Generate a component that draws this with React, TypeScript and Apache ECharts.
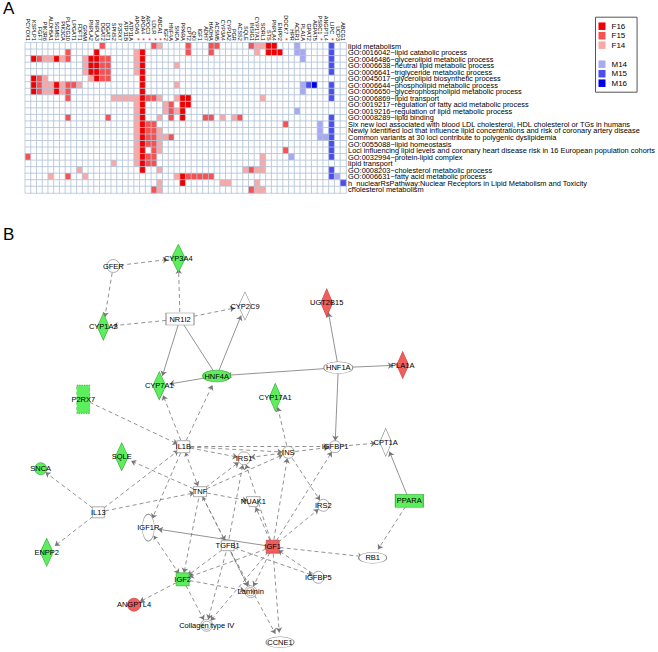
import React, { useEffect, useRef } from "react";
import * as echarts from "echarts";

const FONT = "Liberation Sans, Arial, sans-serif";

// ---------- Panel A data ----------
const genes = [
  "PCYOX1", "KSPLP1", "FGF7", "PIK3R6", "ALDH5A1", "SGMS1", "PIK3CA", "PLA2G10", "LPGAT1", "FDFT1",
  "GPAM", "PNPLA2", "PNPLA3", "DGAT2", "DGAT1", "SPNS2", "P2RX7", "ATP11B", "ATP11A", "APOA5",
  "APOA4", "APOC3", "LDLR", "ABCA1", "IGF2", "HNF4A", "SNCA", "PPARA", "CPT2", "QKI",
  "IGF1", "ADH7", "HADHA", "ACSM5", "CYP3A4", "CYP1A2", "PGR", "ACSS2", "SQLE", "INSIG1",
  "CYP17A1", "SORL1", "STS", "PNPLA4", "ENPP2", "DOCK7", "HPR", "ACER1", "PLA1A", "GPAT2",
  "AGPAT5", "PSRC1", "ANGPTL4", "LIPC", "UCP3", "ABCG1",
];
const starredGenes = ["APOA5", "APOA4", "APOC3", "LDLR", "ABCA1", "DOCK7", "PSRC1", "LIPC"];

const terms = [
  "lipid metabolism",
  "GO:0016042~lipid catabolic process",
  "GO:0046486~glycerolipid metabolic process",
  "GO:0006638~neutral lipid metabolic process",
  "GO:0006641~triglyceride metabolic process",
  "GO:0045017~glycerolipid biosynthetic process",
  "GO:0006644~phospholipid metabolic process",
  "GO:0006650~glycerophospholipid metabolic process",
  "GO:0006869~lipid transport",
  "GO:0019217~regulation of fatty acid metabolic process",
  "GO:0019216~regulation of lipid metabolic process",
  "GO:0008289~lipid binding",
  "Six new loci associated with blood LDL cholesterol, HDL cholesterol or TGs in humans",
  "Newly identified loci that influence lipid concentrations and risk of coronary artery disease",
  "Common variants at 30 loci contribute to polygenic dyslipidemia",
  "GO:0055088~lipid homeostasis",
  "Loci influencing lipid levels and coronary heart disease risk in 16 European population cohorts",
  "GO:0032994~protein-lipid complex",
  "lipid transport",
  "GO:0008203~cholesterol metabolic process",
  "GO:0006631~fatty acid metabolic process",
  "h_nuclearRsPathway:Nuclear Receptors in Lipid Metabolism and Toxicity",
  "cholesterol metabolism",
];

// levels: 3 = F16, 2 = F15, 1 = F14, -1 = M14, -2 = M15, -3 = M16 ; [row, col, level]
const cells: [number, number, number][] = [
  [0, 13, 2], [0, 22, 2], [0, 23, 1], [0, 28, 2], [0, 32, 2], [0, 33, 2], [0, 39, 2], [0, 40, 1], [0, 41, 1], [0, 42, 3], [0, 43, 3], [0, 47, -1], [0, 53, -2],
  [1, 7, 2], [1, 12, 3], [1, 19, 1], [1, 20, 3], [1, 28, 2], [1, 32, 2], [1, 40, 1], [1, 42, 3], [1, 43, 3], [1, 44, 3], [1, 47, -1], [1, 48, -1], [1, 53, -2],
  [2, 1, 3], [2, 2, 2], [2, 3, 1], [2, 4, 1], [2, 5, 3], [2, 6, 1], [2, 7, 2], [2, 10, 1], [2, 11, 3], [2, 12, 3], [2, 13, 2], [2, 14, 2], [2, 19, 1], [2, 20, 3], [2, 48, -1], [2, 53, -2],
  [3, 10, 1], [3, 11, 3], [3, 12, 3], [3, 13, 2], [3, 14, 2], [3, 19, 1], [3, 20, 3], [3, 26, 1], [3, 53, -2],
  [4, 10, 1], [4, 11, 3], [4, 12, 3], [4, 13, 2], [4, 14, 2], [4, 19, 1], [4, 20, 3], [4, 53, -2],
  [5, 1, 3], [5, 2, 2], [5, 3, 1], [5, 11, 1], [5, 12, 3], [5, 13, 2], [5, 14, 2], [5, 20, 3],
  [6, 1, 3], [6, 2, 2], [6, 3, 1], [6, 4, 1], [6, 5, 3], [6, 6, 1], [6, 7, 2], [6, 8, 2], [6, 9, 1], [6, 20, 3], [6, 26, 1], [6, 48, -1], [6, 49, -2], [6, 50, -3], [6, 53, -2],
  [7, 1, 3], [7, 2, 2], [7, 3, 1], [7, 4, 1], [7, 5, 3], [7, 6, 1], [7, 7, 2], [7, 20, 3], [7, 48, -1], [7, 53, -2],
  [8, 7, 2], [8, 15, 1], [8, 16, 1], [8, 17, 1], [8, 18, 1], [8, 19, 1], [8, 20, 3], [8, 21, 2], [8, 22, 2], [8, 23, 1], [8, 26, 1], [8, 27, 3], [8, 28, 3], [8, 41, 1], [8, 53, -2],
  [9, 19, 1], [9, 20, 3], [9, 24, 1], [9, 25, 2], [9, 27, 3], [9, 28, 3],
  [10, 19, 1], [10, 20, 3], [10, 24, 1], [10, 25, 2], [10, 26, 1], [10, 27, 3], [10, 47, -1],
  [11, 7, 2], [11, 14, 2], [11, 19, 1], [11, 20, 3], [11, 23, 1], [11, 25, 2], [11, 27, 3], [11, 31, 2], [11, 32, 2], [11, 34, 1], [11, 36, 1], [11, 37, 2], [11, 53, -2],
  [12, 19, 1], [12, 20, 3], [12, 21, 2], [12, 22, 2], [12, 45, 2], [12, 51, -1], [12, 53, -2],
  [13, 19, 1], [13, 20, 3], [13, 21, 2], [13, 22, 2], [13, 23, 1], [13, 51, -1], [13, 53, -2],
  [14, 19, 1], [14, 20, 3], [14, 21, 2], [14, 22, 2], [14, 23, 1], [14, 24, 1], [14, 25, 2], [14, 51, -1], [14, 52, -1], [14, 53, -2],
  [15, 19, 1], [15, 20, 3], [15, 21, 2], [15, 22, 2], [15, 23, 1], [15, 53, -2],
  [16, 19, 1], [16, 20, 3], [16, 22, 2], [16, 23, 1], [16, 45, 2], [16, 53, -2],
  [17, 0, 2], [17, 19, 1], [17, 20, 3], [17, 21, 2], [17, 22, 2], [17, 41, 1], [17, 46, -1], [17, 53, -2],
  [18, 15, 1], [18, 19, 1], [18, 20, 3], [18, 21, 2], [18, 22, 2], [18, 41, 1],
  [19, 9, 1], [19, 20, 3], [19, 23, 1], [19, 38, 1], [19, 39, 2], [19, 40, 1], [19, 41, 1], [19, 53, -2],
  [20, 4, 1], [20, 7, 2], [20, 10, 1], [20, 26, 1], [20, 27, 3], [20, 28, 2], [20, 29, 2], [20, 30, 2], [20, 31, 2], [20, 32, 2], [20, 53, -2], [20, 54, -1],
  [21, 23, 1], [21, 27, 3], [21, 34, 1], [21, 35, 1], [21, 40, 1], [21, 55, -2],
  [22, 22, 2], [22, 23, 1], [22, 39, 2], [22, 40, 1], [22, 41, 1],
];

const levelValues = [3, 2, 1, 0, -1, -2, -3];
const levelNames = ["F16", "F15", "F14", " ", "M14", "M15", "M16"];
const levelColors = ["#f00000", "#f65252", "#f9a8a8", "#ffffff", "#a7a9f4", "#4c4cf0", "#0000ec"];

// ---------- Panel B data ----------
const nodeNames = [
  "GFER", "CYP3A4", "CYP2C9", "NR1I2", "CYP1A2", "UGT2B15", "HNF1A", "PLA1A", "HNF4A", "CYP7A1",
  "P2RX7", "CYP17A1", "IL1B", "IGFBP1", "CPT1A", "IRS1", "INS", "SQLE", "SNCA", "TNF",
  "NUAK1", "IRS2", "PPARA", "IL13", "IGF1R", "TGFB1", "IGF1", "ENPP2", "RB1", "IGFBP5",
  "IGF2", "Laminin", "ANGPTL4", "Collagen type IV", "CCNE1",
];
const nodeX = [
  113.3, 178.3, 245, 180, 103.3, 326.7, 338.3, 402.7, 216.7, 159.3,
  83.3, 275.3, 183.3, 335, 385.7, 244, 288.3, 121.7, 40.7, 200,
  253.3, 323.3, 409.3, 98.3, 148.3, 227.7, 272.7, 46.7, 372.7, 318.3,
  182.7, 250.7, 134, 206.7, 280,
];
const nodeY = [
  266, 258.3, 306, 319, 326.7, 302.7, 367.7, 365, 376, 385.7,
  399.3, 397.3, 446.7, 446.7, 442.3, 458.3, 452.3, 456.7, 468.7, 491.7,
  501.7, 505.3, 500.7, 512.3, 527.7, 545.7, 546.7, 552.3, 557.7, 577.3,
  579.3, 591.7, 604.7, 625.3, 642.3,
];
// shape: c circle, d diamond, r rect, e ellipse, o double circle, t trapezoid
const nodeShape = [
  "c", "d", "d", "r", "d", "d", "e", "d", "e", "d",
  "r", "d", "r", "c", "d", "c", "c", "d", "c", "r",
  "t", "c", "r", "r", "e", "r", "r", "d", "e", "c",
  "r", "o", "c", "o", "e",
];
// fill: g green, r red, w white
const nodeFill = [
  "w", "g", "w", "w", "g", "r", "w", "r", "g", "g",
  "g", "g", "w", "w", "w", "w", "w", "g", "g", "w",
  "w", "w", "g", "w", "w", "w", "r", "g", "w", "w",
  "g", "w", "r", "w", "w",
];
const nodeW = [
  13, 14, 13, 28, 12, 12, 29, 12, 28, 13,
  13, 12, 13, 12, 12, 13, 12, 13, 12, 13,
  14, 12, 28, 12, 12, 13, 13, 13, 28, 12,
  13, 12, 13, 12, 28,
];
const nodeH = [
  13, 28, 28, 12, 27, 28, 12, 27, 12, 28,
  28, 28, 12, 12, 28, 13, 12, 28, 12, 10,
  10, 12, 13, 11, 27, 10, 13, 28, 11, 12,
  13, 12, 13, 12, 11,
];
const dashedBorder = ["P2RX7"];

// [source, target, line (s solid / d dashed), arrows (0 none, 1 target, 2 both)]
const edges: [string, string, string, number][] = [
  ["GFER", "CYP3A4", "d", 1], ["GFER", "CYP1A2", "d", 1], ["NR1I2", "CYP3A4", "d", 1],
  ["NR1I2", "CYP1A2", "d", 1], ["NR1I2", "CYP2C9", "d", 1], ["NR1I2", "CYP7A1", "s", 1],
  ["NR1I2", "HNF4A", "s", 0], ["HNF4A", "CYP2C9", "s", 1], ["HNF4A", "CYP7A1", "s", 1],
  ["HNF1A", "HNF4A", "s", 1], ["HNF1A", "UGT2B15", "s", 1], ["HNF1A", "PLA1A", "s", 1],
  ["HNF1A", "IGFBP1", "s", 1], ["INS", "CYP17A1", "d", 1], ["P2RX7", "IL1B", "d", 1],
  ["IL1B", "CYP7A1", "d", 1], ["IL1B", "HNF4A", "d", 1], ["IL1B", "IRS1", "d", 1],
  ["IL1B", "INS", "d", 1], ["IL1B", "IGFBP1", "d", 1], ["IL1B", "TNF", "d", 2],
  ["IL1B", "IGF1R", "d", 1], ["IL13", "IL1B", "d", 1], ["IL13", "SNCA", "d", 1],
  ["IL13", "ENPP2", "d", 1], ["IL13", "TNF", "d", 1], ["TNF", "SQLE", "d", 1],
  ["TNF", "IRS1", "d", 1], ["TNF", "INS", "d", 1], ["TNF", "NUAK1", "d", 1],
  ["TNF", "TGFB1", "d", 2], ["TNF", "IGF2", "d", 1], ["TNF", "Laminin", "d", 1],
  ["INS", "IRS1", "d", 1], ["INS", "IRS2", "d", 1], ["INS", "IGFBP1", "d", 1],
  ["IGF1", "IRS1", "d", 1], ["IGF1", "INS", "d", 1], ["IGF1", "IRS2", "d", 1],
  ["IGF1", "IGFBP1", "d", 1], ["IGF1", "NUAK1", "d", 1], ["IGF1", "IGF1R", "s", 1],
  ["IGF1", "IGF2", "d", 1], ["IGF1", "Laminin", "d", 1], ["IGF1", "Collagen type IV", "d", 1],
  ["IGF1", "CCNE1", "d", 1], ["IGF1", "RB1", "d", 1], ["IGFBP5", "IGF1", "d", 1],
  ["IGF1R", "IGF2", "d", 2], ["TGFB1", "IRS1", "d", 1], ["TGFB1", "IGF2", "d", 1],
  ["TGFB1", "Laminin", "d", 1], ["TGFB1", "Collagen type IV", "d", 1], ["TGFB1", "IGFBP5", "d", 1],
  ["TGFB1", "CCNE1", "d", 1], ["IGF2", "ANGPTL4", "d", 1], ["IGF2", "Collagen type IV", "d", 1],
  ["IGF2", "Laminin", "d", 1], ["PPARA", "CPT1A", "s", 1], ["PPARA", "RB1", "d", 1],
  ["IGFBP1", "CPT1A", "d", 1],
];

const SYMBOLS: Record<string, string> = {
  c: "path://M0,50 A50,50 0 1,1 100,50 A50,50 0 1,1 0,50 Z",
  e: "path://M0,50 A50,50 0 1,1 100,50 A50,50 0 1,1 0,50 Z",
  o: "path://M0,50 A50,50 0 1,1 100,50 A50,50 0 1,1 0,50 Z M16,50 A34,34 0 1,0 84,50 A34,34 0 1,0 16,50 Z",
  d: "diamond",
  r: "rect",
  t: "path://M0,0 L100,0 L78,100 L22,100 Z",
};
const FILLS: Record<string, [string, string]> = {
  g: ["#5dee5d", "#3caa3c"],
  r: ["#ef5d5d", "#c64040"],
  w: ["#ffffff", "#8a8a8a"],
};

export default function App() {
  const ref = useRef<HTMLDivElement>(null);
  useEffect(() => {
    if (!ref.current) return;
    const chart = echarts.init(ref.current, undefined, { renderer: "svg" });

    const lookup = new Map<string, number>();
    cells.forEach(([r, c, v]) => lookup.set(r + "_" + c, v));
    const heatData: number[][] = [];
    for (let r = 0; r < terms.length; r++) {
      for (let c = 0; c < genes.length; c++) {
        heatData.push([c, r, lookup.get(r + "_" + c) ?? 0]);
      }
    }

    const minX = Math.min(...nodeX);
    const maxX = Math.max(...nodeX);
    const minY = Math.min(...nodeY);
    const maxY = Math.max(...nodeY);

    const nodes = nodeNames.map((name, i) => ({
      name,
      x: nodeX[i],
      y: nodeY[i],
      symbol: SYMBOLS[nodeShape[i]],
      symbolSize: [nodeW[i], nodeH[i]],
      itemStyle: {
        color: FILLS[nodeFill[i]][0],
        borderColor: FILLS[nodeFill[i]][1],
        borderWidth: 0.7,
        borderType: dashedBorder.includes(name) ? [2, 1.5] : "solid",
      },
    }));
    const links = edges.map(([s, t, line, arr]) => ({
      source: s,
      target: t,
      symbol: arr === 2 ? ["arrow", "arrow"] : arr === 1 ? ["none", "arrow"] : ["none", "none"],
      lineStyle: { type: line === "d" ? [4, 3] : "solid" },
    }));

    chart.setOption({
      animation: false,
      textStyle: { fontFamily: FONT },
      graphic: [
        { type: "text", left: 3, top: 0, style: { text: "A", font: "17px " + FONT, fill: "#000" } },
        { type: "text", left: 3, top: 226, style: { text: "B", font: "17px " + FONT, fill: "#000" } },
      ],
      grid: { left: 25.3, top: 42.8, width: 324.7, height: 150.2, containLabel: false },
      xAxis: {
        type: "category",
        data: genes,
        position: "top",
        axisLine: { show: false },
        axisTick: { show: false },
        splitLine: { show: false },
        axisLabel: {
          interval: 0,
          rotate: 90,
          margin: 2,
          fontSize: 5.5,
          color: "#000",
          formatter: (v: string) => (starredGenes.includes(v) ? `{n|${v}}{s|  *}` : `{n|${v}}`),
          rich: {
            n: { fontSize: 5.5, color: "#000", fontFamily: FONT },
            s: { fontSize: 7, color: "#e00000", fontFamily: FONT },
          },
        },
      },
      yAxis: {
        type: "category",
        data: terms,
        inverse: true,
        position: "right",
        axisLine: { show: false },
        axisTick: { show: false },
        splitLine: { show: false },
        axisLabel: {
          interval: 0,
          margin: 2,
          fontSize: 7.4,
          lineHeight: 6.4,
          color: "#000",
          fontFamily: FONT,
        },
      },
      visualMap: {
        type: "piecewise",
        seriesIndex: 0,
        dimension: 2,
        orient: "vertical",
        align: "left",
        left: 595,
        top: 16.7,
        itemWidth: 7,
        itemHeight: 7.5,
        itemGap: 1.5,
        textGap: 6,
        itemSymbol: "rect",
        padding: [5, 10, 5, 3],
        borderColor: "#555",
        borderWidth: 1,
        backgroundColor: "#fff",
        selectedMode: false,
        hoverLink: false,
        textStyle: { fontSize: 8, color: "#000", fontFamily: FONT },
        pieces: levelValues.map((v, i) => ({ value: v, label: levelNames[i], color: levelColors[i] })),
      },
      series: [
        {
          type: "heatmap",
          data: heatData,
          itemStyle: { borderColor: "#b3c3d7", borderWidth: 0.8 },
          emphasis: { disabled: true },
          progressive: 0,
        },
        {
          type: "graph",
          layout: "none",
          left: minX,
          top: minY,
          width: maxX - minX,
          height: maxY - minY,
          roam: false,
          data: nodes,
          links,
          edgeSymbol: ["none", "arrow"],
          edgeSymbolSize: [4, 5],
          label: {
            show: true,
            position: "inside",
            fontSize: 7.5,
            color: "#000",
            fontFamily: FONT,
            textBorderWidth: 0,
            textBorderColor: "transparent",
          },
          lineStyle: { color: "#777777", width: 0.8, opacity: 1 },
          emphasis: { disabled: true },
        },
      ],
    });
    return () => chart.dispose();
  }, []);
  return (
    <div
      ref={ref}
      style={{ position: "absolute", left: 0, top: 0, width: 658, height: 652, background: "#fff" }}
    />
  );
}
